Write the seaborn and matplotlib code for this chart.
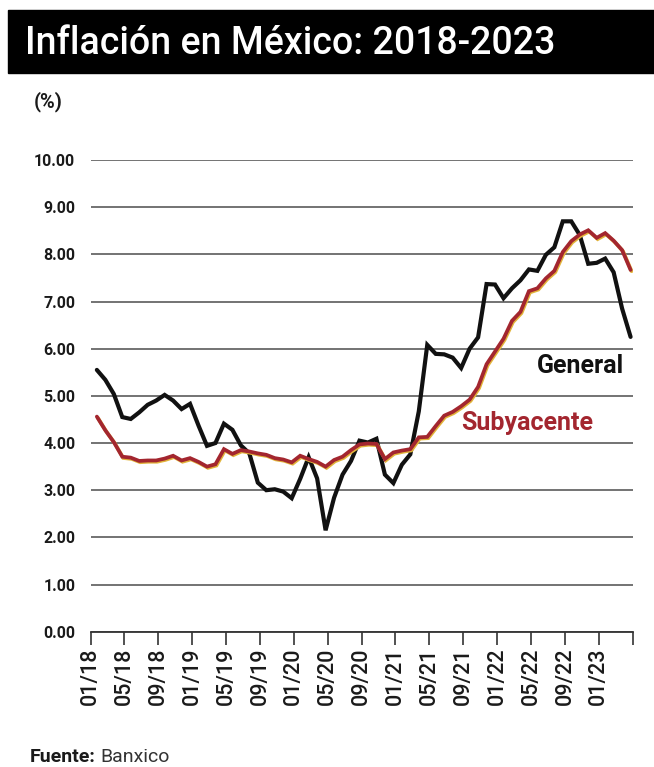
import numpy as np
import pandas as pd
import matplotlib
matplotlib.use("Agg")
import matplotlib.pyplot as plt
import matplotlib.patheffects as pe
from matplotlib.patches import Rectangle
import seaborn as sns

# ---------------- data (monthly, 01/2018 - 04/2023) ----------------
general = [5.55, 5.34, 5.04, 4.55, 4.51, 4.65, 4.81, 4.90, 5.02, 4.90, 4.72, 4.83,
           4.37, 3.94, 4.00, 4.41, 4.28, 3.95, 3.78, 3.16, 3.00, 3.02, 2.97, 2.83,
           3.24, 3.70, 3.25, 2.15, 2.84, 3.33, 3.62, 4.05, 4.01, 4.09, 3.33, 3.15,
           3.54, 3.76, 4.67, 6.08, 5.89, 5.88, 5.81, 5.59, 6.00, 6.24, 7.37, 7.36,
           7.07, 7.28, 7.45, 7.68, 7.65, 7.99, 8.15, 8.70, 8.70, 8.41, 7.80, 7.82,
           7.91, 7.62, 6.85, 6.25]
subyacente = [4.56, 4.27, 4.02, 3.71, 3.69, 3.62, 3.63, 3.63, 3.67, 3.73, 3.63, 3.68,
              3.60, 3.50, 3.55, 3.87, 3.77, 3.85, 3.82, 3.78, 3.75, 3.68, 3.65, 3.59,
              3.73, 3.66, 3.60, 3.50, 3.64, 3.71, 3.85, 3.97, 3.99, 3.98, 3.66, 3.80,
              3.84, 3.87, 4.12, 4.13, 4.36, 4.58, 4.66, 4.78, 4.92, 5.19, 5.67, 5.94,
              6.21, 6.59, 6.78, 7.22, 7.28, 7.49, 7.65, 8.05, 8.28, 8.42, 8.51, 8.35,
              8.45, 8.29, 8.09, 7.67]
x_labels = ["01/18", "05/18", "09/18", "01/19", "05/19", "09/19", "01/20", "05/20",
            "09/20", "01/21", "05/21", "09/21", "01/22", "05/22", "09/22", "01/23", ""]
y_ticks = [0, 1, 2, 3, 4, 5, 6, 7, 8, 9, 10]
series_names = ["General", "Subyacente"]

n = len(general)
df = pd.DataFrame({
    "mes": list(range(n)) * 2,
    "valor": general + subyacente,
    "serie": [series_names[0]] * n + [series_names[1]] * n,
})

# ---------------- style ----------------
sns.set_theme(style="white")
plt.rcParams["font.family"] = ["Roboto", "DejaVu Sans"]

BLACK = "#111111"
RED = "#a3262f"
GRID = "#4d4d4d"

W, H = 654, 767
fig = plt.figure(figsize=(W / 100, H / 100), dpi=100)
fig.patch.set_facecolor("white")


def fx(px):
    return px / W


def fy(py):
    return 1 - py / H


ax = fig.add_axes([fx(90.5), fy(631.7), fx(632.7) - fx(90.5), fy(160) - fy(631.7)])

sns.lineplot(data=df, x="mes", y="valor", hue="serie",
             palette={"General": BLACK, "Subyacente": RED},
             linewidth=3.0, legend=False, ax=ax)

for line in ax.lines:
    line.set_solid_joinstyle("miter")
    if matplotlib.colors.same_color(line.get_color(), RED):
        line.set_linewidth(2.7)
        line.set_path_effects([pe.SimpleLineShadow(offset=(0.7, -0.9),
                                                   shadow_color="#e2b43a", alpha=1.0),
                               pe.Normal()])

ax.set_xlim(-0.75, 63.25)
ax.set_ylim(0, 10)
ax.set_xticks(np.arange(len(x_labels)) * 4 - 0.75)
ax.set_xticklabels(x_labels, rotation=90, fontsize=15.5, fontweight="medium",
                   color="#1a1a1a")
ax.set_yticks(y_ticks)
ax.set_yticklabels([f"{v:.2f}" for v in y_ticks], fontsize=11.5,
                   fontweight="bold", color="#1a1a1a")
ax.set_xlabel("")
ax.set_ylabel("")

ax.yaxis.grid(True, color=GRID, linewidth=1.1)
ax.xaxis.grid(False)
ax.set_axisbelow(True)
for s in ["left", "right", "top"]:
    ax.spines[s].set_visible(False)
ax.spines["bottom"].set_color("#333333")
ax.spines["bottom"].set_linewidth(1.3)
ax.tick_params(axis="x", bottom=True, direction="out", length=9.4, width=1.2,
               color="#333333", pad=2)
ax.tick_params(axis="y", left=False, length=0, pad=11)
ax.set_facecolor("white")

# series labels
ax.text(62.2, 5.63, "General", ha="right", va="center", fontsize=18,
        fontweight="bold", color=BLACK)
ax.text(58.6, 4.42, "Subyacente", ha="right", va="center", fontsize=18,
        fontweight="bold", color=RED)

# title banner
fig.add_artist(Rectangle((fx(8), fy(73)), 1 - fx(8), fy(10) - fy(73),
                         transform=fig.transFigure, color="black", zorder=0))
fig.text(fx(25), fy(44), "Inflación en México: 2018-2023", color="white",
         fontsize=27, fontweight="medium", ha="left", va="center")

fig.text(fx(34), fy(102), "(%)", fontsize=14.5, fontweight="bold", color="#1a1a1a",
         ha="left", va="center")

fig.text(fx(30), fy(757), "Fuente:", fontsize=14, fontweight="bold",
         color="#1a1a1a", ha="left", va="center")
fig.text(fx(100), fy(757), "Banxico", fontsize=14, color="#333333",
         ha="left", va="center")

fig.savefig("out.png", dpi=100, facecolor="white")
